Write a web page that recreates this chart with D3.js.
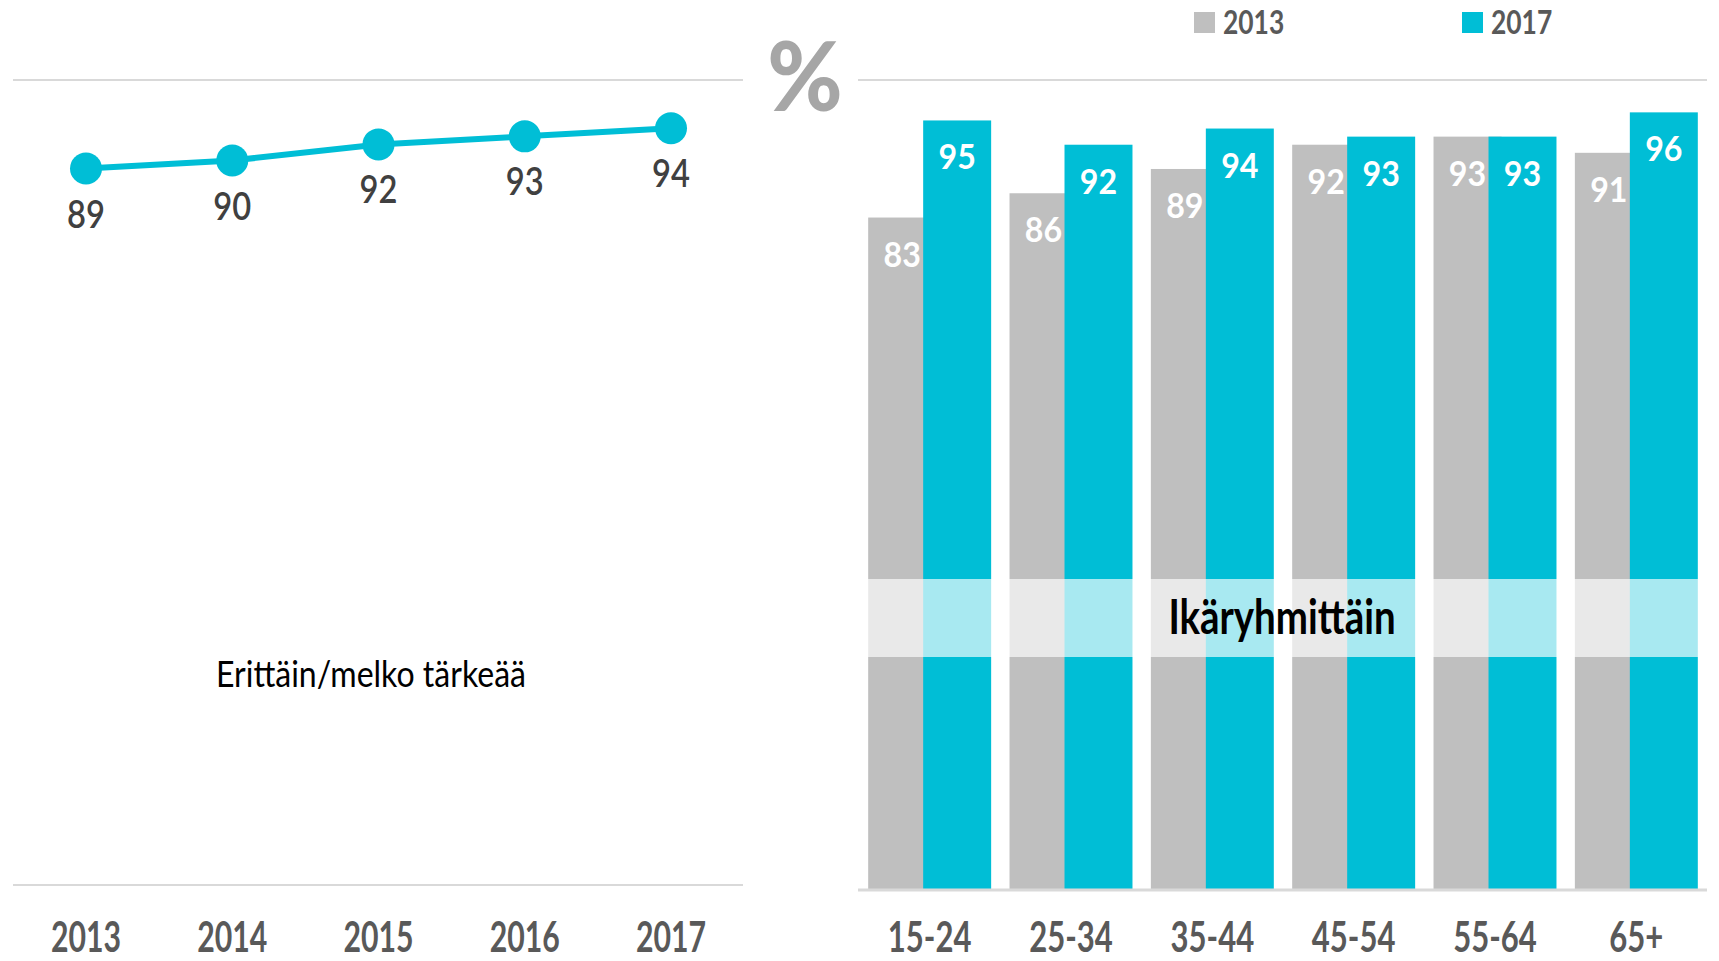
<!DOCTYPE html>
<html>
<head>
<meta charset="utf-8">
<script src="https://cdn.jsdelivr.net/npm/d3@7"></script>
<style>
  body { margin: 0; background: #fff; }
  text { font-family: "Lato", "Open Sans", sans-serif; }
</style>
</head>
<body>
<div id="chart"></div>
<script>
// Data
const years = ["2013", "2014", "2015", "2016", "2017"];
const importance = [89, 90, 92, 93, 94];

const ageGroups = ["15-24", "25-34", "35-44", "45-54", "55-64", "65+"];
const series = ["2013", "2017"];
const values2013 = [83, 86, 89, 92, 93, 91];
const values2017 = [95, 92, 94, 93, 93, 96];

const cyan = "#00bed6",
    grey = "#bfbfbf",
    gridColor = "#d9d9d9";

const svg = d3.select("#chart")
    .append("svg")
    .attr("width", 1719)
    .attr("height", 961);

// the original font is a narrow one, so squeeze text horizontally
const squeeze = (sel, x, y, sx) => sel
    .attr("transform", (d, i) => `translate(${x(d, i)},${y(d, i)}) scale(${sx},1)`);

// ---- Left: line chart ----
const xL = d3.scalePoint()
    .domain(years)
    .range([86, 671]);

const yL = d3.scaleLinear()
    .domain([0, 100])
    .range([885, 80]);

svg.selectAll(".gridL")
    .data([0, 100])
    .join("line")
    .attr("x1", 13)
    .attr("x2", 743)
    .attr("y1", d => yL(d))
    .attr("y2", d => yL(d))
    .attr("stroke", gridColor)
    .attr("stroke-width", 2);

const lineGen = d3.line()
    .x((d, i) => xL(years[i]))
    .y(d => yL(d));

svg.append("path")
    .datum(importance)
    .attr("fill", "none")
    .attr("stroke", cyan)
    .attr("stroke-width", 6)
    .attr("d", lineGen);

svg.selectAll(".dot")
    .data(importance)
    .join("circle")
    .attr("cx", (d, i) => xL(years[i]))
    .attr("cy", d => yL(d))
    .attr("r", 16)
    .attr("fill", cyan);

svg.selectAll(".dotLabel")
    .data(importance)
    .join("text")
    .call(squeeze, (d, i) => xL(years[i]), d => yL(d) + 59, 0.86)
    .attr("text-anchor", "middle")
    .attr("fill", "#404040")
    .style("font-size", "38px")
    .style("font-weight", "600")
    .text(d => d);

svg.selectAll(".yearLabel")
    .data(years)
    .join("text")
    .call(squeeze, d => xL(d), () => 952, 0.72)
    .attr("text-anchor", "middle")
    .attr("fill", "#595959")
    .style("font-size", "42px")
    .style("font-weight", "bold")
    .text(d => d);

svg.append("text")
    .datum("Erittäin/melko tärkeää")
    .call(squeeze, () => 371, () => 687, 0.89)
    .attr("text-anchor", "middle")
    .attr("fill", "#000")
    .style("font-size", "36px")
    .text(d => d);

// ---- Right: grouped bars ----
const xR = d3.scaleBand()
    .domain(ageGroups)
    .range([859, 1707])
    .paddingInner(0.13)
    .paddingOuter(0.065);

const barW = xR.bandwidth() * 68 / 123;
const barOffset = { "2013": 0, "2017": xR.bandwidth() - barW };

const yR = d3.scaleLinear()
    .domain([0, 100])
    .range([889, 80]);

svg.append("line")
    .attr("x1", 858).attr("x2", 1707)
    .attr("y1", yR(100)).attr("y2", yR(100))
    .attr("stroke", gridColor)
    .attr("stroke-width", 2);

const barData = [];
ageGroups.forEach((g, i) => {
    barData.push({ group: g, year: "2013", value: values2013[i] });
    barData.push({ group: g, year: "2017", value: values2017[i] });
});

svg.selectAll(".bar")
    .data(barData)
    .join("rect")
    .attr("x", d => xR(d.group) + barOffset[d.year])
    .attr("y", d => yR(d.value))
    .attr("width", barW)
    .attr("height", d => yR(0) - yR(d.value))
    .attr("fill", d => d.year === "2013" ? grey : cyan);

// baseline
svg.append("line")
    .attr("x1", 858).attr("x2", 1707)
    .attr("y1", yR(0) + 1).attr("y2", yR(0) + 1)
    .attr("stroke", gridColor)
    .attr("stroke-width", 3);

svg.selectAll(".barLabel")
    .data(barData)
    .join("text")
    .call(squeeze, d => xR(d.group) + barOffset[d.year] + barW / 2, d => yR(d.value) + 49, 0.92)
    .attr("text-anchor", "middle")
    .attr("fill", "#fff")
    .style("font-size", "35px")
    .style("font-weight", "bold")
    .text(d => d.value);

// highlight band
svg.append("rect")
    .attr("x", 858)
    .attr("y", 579)
    .attr("width", 1707 - 858)
    .attr("height", 78)
    .attr("fill", "#fff")
    .attr("opacity", 0.66);

svg.append("text")
    .datum("Ikäryhmittäin")
    .call(squeeze, () => 1282, () => 634, 0.8)
    .attr("text-anchor", "middle")
    .attr("fill", "#000")
    .style("font-size", "48px")
    .style("font-weight", "bold")
    .text(d => d);

svg.selectAll(".ageLabel")
    .data(ageGroups)
    .join("text")
    .call(squeeze, d => xR(d) + xR.bandwidth() / 2, () => 952, 0.74)
    .attr("text-anchor", "middle")
    .attr("fill", "#595959")
    .style("font-size", "42px")
    .style("font-weight", "bold")
    .text(d => d);

// percent sign
svg.append("text")
    .datum("%")
    .call(squeeze, () => 805, () => 111, 0.96)
    .attr("text-anchor", "middle")
    .attr("fill", "#a6a6a6")
    .style("font-size", "95px")
    .style("font-weight", "900")
    .text(d => d);

// legend
const legend = svg.selectAll(".legend")
    .data(series)
    .join("g")
    .attr("transform", (d, i) => `translate(${[1194, 1462][i]}, 12)`);

legend.append("rect")
    .attr("width", 21)
    .attr("height", 21)
    .attr("fill", d => d === "2013" ? grey : cyan);

legend.append("text")
    .call(squeeze, () => 29, () => 22, 0.8)
    .attr("fill", "#595959")
    .style("font-size", "33px")
    .style("font-weight", "bold")
    .text(d => d);
</script>
</body>
</html>
